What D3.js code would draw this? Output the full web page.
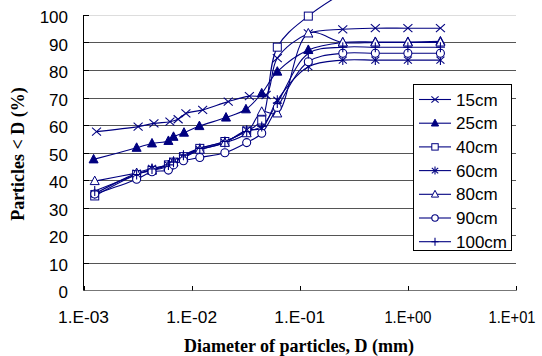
<!DOCTYPE html>
<html>
  <head>
    <style>
      html,
      body {
        margin: 0;
        padding: 0;
        background: #fff;
      }
      svg {
        display: block;
      }
    </style>
  </head>
  <body>
    <div id="chart"></div>
    <script src="https://d3js.org/d3.v7.min.js"></script>
    <script>
      // values (diameter in mm, percent finer)
      const seriesNames = ["15cm", "25cm", "40cm", "60cm", "80cm", "90cm", "100cm"];
      const markerTypes = ["x", "triFilled", "square", "star", "triOpen", "circle", "plus"];

      const diam15 = [0.00132, 0.0032, 0.00448, 0.0063, 0.0075, 0.00885, 0.01265, 0.0218, 0.0342, 0.0488, 0.062, 0.12, 0.25, 0.5, 1, 2];
      const pct15 = [57.6, 59.4, 60.6, 61.2, 62.1, 64.2, 65.5, 68.5, 70.5, 70.9, 84.3, 93.3, 94.8, 95.2, 95.2, 95.2];

      const diam25 = [0.00124, 0.0031, 0.0043, 0.0061, 0.0068, 0.0085, 0.0118, 0.0208, 0.0318, 0.0445, 0.062, 0.12, 0.25, 0.5, 1, 2];
      const pct25 = [47.5, 51.7, 53.3, 54.2, 55.7, 57.2, 59.6, 62.7, 65.7, 71.5, 79.4, 87.3, 90, 90.2, 90.2, 90.4];

      // shared hydrometer + sieve diameters for the deeper samples
      const diamDeep = [0.00127, 0.0031, 0.0043, 0.0061, 0.0068, 0.0084, 0.0119, 0.0203, 0.0323, 0.0445, 0.062, 0.12, 0.25, 0.5, 1, 2];
      const pct40 = [34.2, 42, 43.5, 45.5, 46.5, 48.5, 51.5, 54, 57.8, 61.8, 88.3, 99.6, 108];
      const pct60 = [35, 42.5, 44.2, 45.5, 46.8, 48.5, 51, 53.6, 58.2, 58.8, 69, 81.2, 83.6, 83.6, 83.6, 83.6];
      const pct80 = [39.6, 42.5, 43.5, 45, 46.5, 48, 51, 53.5, 57, 64.8, 64.2, 93.3, 90, 90, 90, 90];
      const pct90 = [34.9, 40.3, 43, 43.6, 45.5, 47, 48.2, 49.9, 53.6, 57, 66.4, 83, 86.1, 86.1, 86.1, 86.1];
      const pct100 = [36, 42, 44, 45.5, 46.5, 49, 51.5, 54, 57.6, 59.5, 68, 86, 88.3, 88.3, 88.3, 88.3];

      const xTicks = [1e-3, 1e-2, 1e-1, 1, 10];
      const xTickLabels = ["1.E-03", "1.E-02", "1.E-01", "1.E+00", "1.E+01"];
      const yTicks = [0, 10, 20, 30, 40, 50, 60, 70, 80, 90, 100];

      const diams = [diam15, diam25, diamDeep, diamDeep, diamDeep, diamDeep, diamDeep];
      const pcts = [pct15, pct25, pct40, pct60, pct80, pct90, pct100];
      const series = seriesNames.map((name, i) => ({
        name: name,
        marker: markerTypes[i],
        points: pcts[i].map((p, j) => ({ d: diams[i][j], p: p })),
      }));

      const width = 542;
      const height = 356;
      const navy = "#000080";

      const x = d3.scaleLog().domain([1e-3, 10]).range([83.5, 516]);
      const y = d3.scaleLinear().domain([0, 100]).range([290, 15]);

      const svg = d3
        .select("#chart")
        .append("svg")
        .attr("width", width)
        .attr("height", height);

      svg
        .append("defs")
        .append("clipPath")
        .attr("id", "plotClip")
        .append("rect")
        .attr("x", 83.5)
        .attr("y", 0)
        .attr("width", 516 - 83.5)
        .attr("height", 292);

      // gridlines
      svg
        .append("g")
        .selectAll("line")
        .data(yTicks.filter((t) => t > 0))
        .join("line")
        .attr("x1", 83.5)
        .attr("x2", 516)
        .attr("y1", (d) => Math.round(y(d)) + 0.5)
        .attr("y2", (d) => Math.round(y(d)) + 0.5)
        .attr("stroke", (d) => (d === 100 ? "#ddd" : "#555"))
        .attr("stroke-width", 1);

      // y axis
      const yAxis = svg.append("g");
      yAxis
        .append("line")
        .attr("x1", 83.5)
        .attr("x2", 83.5)
        .attr("y1", y(100))
        .attr("y2", y(0) + 0.5)
        .attr("stroke", "#000");
      yAxis
        .selectAll("line.tick")
        .data(yTicks)
        .join("line")
        .attr("class", "tick")
        .attr("x1", 83.5)
        .attr("x2", 89)
        .attr("y1", (d) => Math.round(y(d)) + 0.5)
        .attr("y2", (d) => Math.round(y(d)) + 0.5)
        .attr("stroke", "#000");
      yAxis
        .selectAll("text")
        .data(yTicks)
        .join("text")
        .attr("x", 68)
        .attr("y", (d) => y(d) + 8)
        .attr("text-anchor", "end")
        .attr("font-family", "Liberation Sans, Arial, sans-serif")
        .attr("font-size", 17)
        .attr("fill", "#000")
        .text((d) => d);

      // x axis
      const xAxis = svg.append("g");
      xAxis
        .append("line")
        .attr("x1", 83.5)
        .attr("x2", 516)
        .attr("y1", 290.5)
        .attr("y2", 290.5)
        .attr("stroke", "#777");
      xAxis
        .selectAll("line.tick")
        .data(xTicks)
        .join("line")
        .attr("class", "tick")
        .attr("x1", (d) => Math.round(x(d)) + 0.5)
        .attr("x2", (d) => Math.round(x(d)) + 0.5)
        .attr("y1", 290.5)
        .attr("y2", 286)
        .attr("stroke", "#000");
      xAxis
        .selectAll("text")
        .data(xTicks)
        .join("text")
        .attr("x", (d, i) => (i === xTicks.length - 1 ? x(d) - 4 : x(d)))
        .attr("y", 323)
        .attr("text-anchor", "middle")
        .attr("font-family", "Liberation Sans, Arial, sans-serif")
        .attr("font-size", 16)
        .attr("fill", "#000")
        .attr("textLength", (d, i) => (xTickLabels[i].includes("+") ? 47 : 51))
        .attr("lengthAdjust", "spacingAndGlyphs")
        .text((d, i) => xTickLabels[i]);

      // axis titles
      svg
        .append("text")
        .attr("x", 299)
        .attr("y", 352)
        .attr("text-anchor", "middle")
        .attr("font-family", "Liberation Serif, Times New Roman, serif")
        .attr("font-weight", "bold")
        .attr("font-size", 18)
        .text("Diameter of particles, D (mm)");

      svg
        .append("text")
        .attr("transform", "translate(24,154) rotate(-90)")
        .attr("text-anchor", "middle")
        .attr("font-family", "Liberation Serif, Times New Roman, serif")
        .attr("font-weight", "bold")
        .attr("font-size", 18)
        .text("Particles < D (%)");

      const drawMarker = (g, type, cx, cy, s) => {
        const m = g.append("g").attr("transform", `translate(${cx},${cy})`);
        const line = (x1, y1, x2, y2) =>
          m.append("line")
            .attr("x1", x1 * s).attr("y1", y1 * s)
            .attr("x2", x2 * s).attr("y2", y2 * s)
            .attr("stroke", navy).attr("stroke-width", 1.1);
        if (type === "x") {
          line(-4.5, -4, 4.5, 4);
          line(-4.5, 4, 4.5, -4);
        } else if (type === "triFilled" || type === "triOpen") {
          m.append("path")
            .attr("d", `M0,${-5 * s}L${4.5 * s},${3.5 * s}L${-4.5 * s},${3.5 * s}Z`)
            .attr("fill", type === "triFilled" ? navy : "#fff")
            .attr("stroke", navy)
            .attr("stroke-width", 1);
        } else if (type === "square") {
          m.append("rect")
            .attr("x", -4 * s).attr("y", -4 * s)
            .attr("width", 8 * s).attr("height", 8 * s)
            .attr("fill", "#fff").attr("stroke", navy);
        } else if (type === "star") {
          line(-4, -3.5, 4, 3.5);
          line(-4, 3.5, 4, -3.5);
          line(0, -5, 0, 5);
        } else if (type === "circle") {
          m.append("circle")
            .attr("r", 4 * s)
            .attr("fill", "#fff").attr("stroke", navy).attr("stroke-width", 1.1);
        } else if (type === "plus") {
          line(-4.5, 0, 4.5, 0);
          line(0, -5, 0, 5);
        }
      };

      const lineGen = d3
        .line()
        .x((d) => x(d.d))
        .y((d) => y(d.p))
        .curve(d3.curveCatmullRom.alpha(0.5));

      const plot = svg.append("g").attr("clip-path", "url(#plotClip)");
      series.forEach((s) => {
        plot
          .append("path")
          .attr("d", lineGen(s.points))
          .attr("fill", "none")
          .attr("stroke", navy)
          .attr("stroke-width", 1.1);
      });
      series.forEach((s) => {
        const g = plot.append("g");
        s.points
          .filter((pt) => pt.p <= 101)
          .forEach((pt) => drawMarker(g, s.marker, x(pt.d), y(pt.p), 1));
      });

      // legend
      const legend = svg.append("g");
      legend
        .append("rect")
        .attr("x", 413.5)
        .attr("y", 84.5)
        .attr("width", 98)
        .attr("height", 166)
        .attr("fill", "#fff")
        .attr("stroke", "#000");
      series.forEach((s, i) => {
        const ly = 99.5 + i * 23.7;
        legend
          .append("line")
          .attr("x1", 419)
          .attr("x2", 451)
          .attr("y1", ly)
          .attr("y2", ly)
          .attr("stroke", navy)
          .attr("stroke-width", 1.1);
        drawMarker(legend, s.marker, 435, ly, 0.8);
        legend
          .append("text")
          .attr("x", 456)
          .attr("y", ly + 6)
          .attr("font-family", "Liberation Sans, Arial, sans-serif")
          .attr("font-size", 17)
          .attr("fill", "#000")
          .text(s.name);
      });
    </script>
  </body>
</html>
